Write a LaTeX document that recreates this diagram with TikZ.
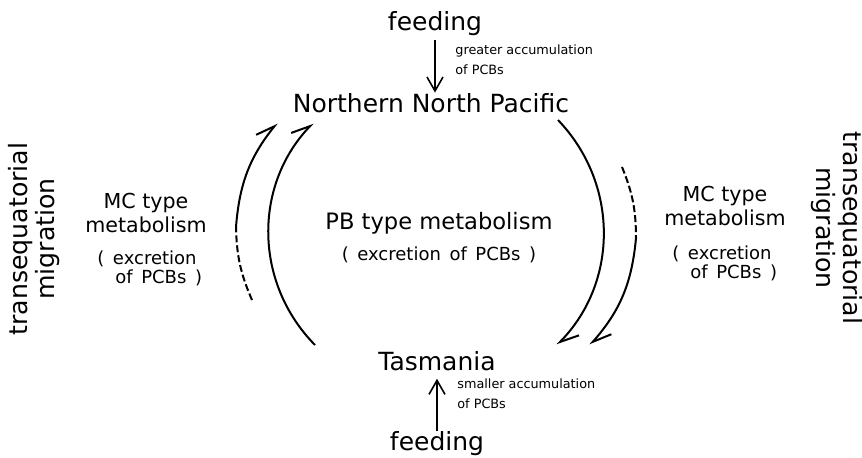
\documentclass[tikz,border=0pt]{standalone}
\usepackage{fontspec}
\setmainfont{DejaVu Sans}
\newfontfamily\excrfont[WordSpace=1.5]{DejaVu Sans}
\usepackage{tikz}
\usetikzlibrary{arrows.meta,positioning}

\begin{document}
\begin{tikzpicture}[
    x=0.5pt, y=-0.5pt,
    place/.style={font=\fontsize{12.5}{15}\selectfont, inner sep=0pt},
    meta/.style={font=\fontsize{10.3}{12}\selectfont, align=center, inner sep=0pt},
    excr/.style={font=\excrfont\fontsize{9}{9.5}\selectfont, align=left, inner sep=0pt},
    note/.style={font=\fontsize{6.4}{10}\selectfont, align=left, inner sep=0pt},
    migr/.style={font=\fontsize{12.6}{12}\selectfont, align=center, inner sep=0pt},
    feedarrow/.style={-{Straight Barb[length=7pt,width=8pt]}, line width=0.8pt},
    route/.style={line width=1pt},
    harp/.style={-{Straight Barb[left,length=9pt,width=9pt]}}
  ]
  \useasboundingbox (0,0) rectangle (862,457);
  % Nodes -- places
  \node[place, anchor=base] (feedN) at (435,30) {feeding};
  \node[place, anchor=base] (north) at (431,112) {Northern North Pacific};
  \node[place, anchor=base] (tas) at (437,370) {Tasmania};
  \node[place, anchor=base] (feedS) at (437,450) {feeding};
  \node[note, anchor=north west] (noteN) at (455,44) {greater accumulation\\of PCBs};
  \node[note, anchor=north west] (noteS) at (457,378) {smaller accumulation\\of PCBs};
  % metabolism
  \node[font=\fontsize{11.3}{13}\selectfont, inner sep=0pt, anchor=base] (pb) at (439,229) {PB type metabolism};
  \node[excr, below=6pt of pb] (exC) {( excretion of PCBs )};
  \node[meta, anchor=north] (mcL) at (146,193) {MC type\\metabolism};
  \node[excr, anchor=north west] (exL) at (97,250) {( excretion\\\hspace*{9pt}of PCBs )};
  \node[meta, anchor=north] (mcR) at (725,186) {MC type\\metabolism};
  \node[excr, anchor=north west] (exR) at (672,245) {( excretion\\\hspace*{9pt}of PCBs )};
  % migration
  \node[migr, rotate=90] (migL) at (34,239) {transequatorial\\migration};
  \node[migr, rotate=-90] (migR) at (837,228) {transequatorial\\migration};
  % arc ends
  \coordinate (li1) at (315,345);
  \coordinate (li2) at (313,123);
  \coordinate (lo1) at (252,300);
  \coordinate (lo2) at (236,227);
  \coordinate (lo3) at (277,123);
  \coordinate (ri1) at (558,120);
  \coordinate (ri2) at (557,345);
  \coordinate (ro1) at (622,167);
  \coordinate (ro2) at (636,238);
  \coordinate (ro3) at (590,345);
  % Arrows
  \draw[feedarrow, shorten <=2pt] (feedN.south) -- (feedN.south |- north.north);
  \draw[feedarrow, shorten >=4pt] (feedS.north) -- (feedS.north |- tas.south);
  \draw[route, harp] (li1) to[bend left=44] (li2);
  \draw[route, dash pattern=on 3.5pt off 1.5pt] (lo1) to[bend left=11] (lo2);
  \draw[route, harp] (lo2) to[bend left=17] (lo3);
  \draw[route, harp] (ri1) to[bend left=44] (ri2);
  \draw[route, dash pattern=on 3.5pt off 1.5pt] (ro1) to[bend left=11] (ro2);
  \draw[route, harp] (ro2) to[bend left=18] (ro3);
\end{tikzpicture}
\end{document}
